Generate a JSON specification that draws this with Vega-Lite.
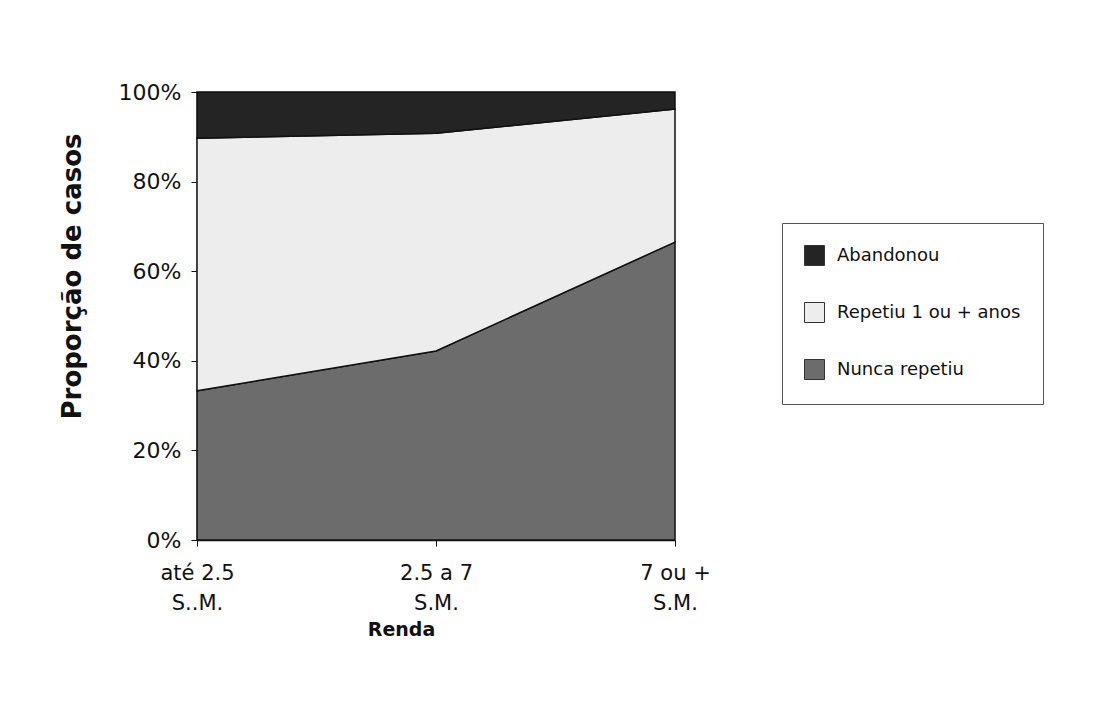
{
  "$schema": "https://vega.github.io/schema/vega-lite/v6.json",
  "width": 478,
  "height": 448,
  "autosize": {"type": "none"},
  "padding": {"left": 197, "top": 92, "right": 430, "bottom": 164},
  "background": "white",
  "data": {
    "values": [
      {"renda": "até 2.5|S..M.", "grupo": "Nunca repetiu", "valor": 33.3},
      {"renda": "até 2.5|S..M.", "grupo": "Repetiu 1 ou + anos", "valor": 56.4},
      {"renda": "até 2.5|S..M.", "grupo": "Abandonou", "valor": 10.3},
      {"renda": "2.5 a 7|S.M.", "grupo": "Nunca repetiu", "valor": 42.2},
      {"renda": "2.5 a 7|S.M.", "grupo": "Repetiu 1 ou + anos", "valor": 48.6},
      {"renda": "2.5 a 7|S.M.", "grupo": "Abandonou", "valor": 9.2},
      {"renda": "7 ou +|S.M.", "grupo": "Nunca repetiu", "valor": 66.5},
      {"renda": "7 ou +|S.M.", "grupo": "Repetiu 1 ou + anos", "valor": 29.7},
      {"renda": "7 ou +|S.M.", "grupo": "Abandonou", "valor": 3.8}
    ]
  },
  "transform": [
    {"calculate": "indexof(['Nunca repetiu','Repetiu 1 ou + anos','Abandonou'], datum.grupo)", "as": "ordem"}
  ],
  "mark": {"type": "area", "stroke": "#111", "strokeWidth": 1.5, "opacity": 1},
  "encoding": {
    "x": {
      "field": "renda",
      "type": "ordinal",
      "sort": ["até 2.5|S..M.", "2.5 a 7|S.M.", "7 ou +|S.M."],
      "scale": {"type": "point", "padding": 0},
      "axis": {
        "title": "Renda",
        "labelExpr": "split(datum.value, '|')",
        "labelAngle": 0,
        "labelFont": "DejaVu Sans",
        "labelFontSize": 21,
        "labelColor": "#111",
        "labelLineHeight": 30,
        "labelPadding": 16,
        "tickSize": 6,
        "tickColor": "#111",
        "domainColor": "#111",
        "domainWidth": 1.5,
        "titleFont": "DejaVu Sans",
        "titleFontSize": 19,
        "titleFontWeight": "bold",
        "titleColor": "#111",
        "titleAnchor": null,
        "titleAlign": "center",
        "titleBaseline": "middle",
        "titleX": 204,
        "titleY": 89,
        "grid": false
      }
    },
    "y": {
      "field": "valor",
      "type": "quantitative",
      "stack": "normalize",
      "scale": {"domain": [0, 1]},
      "axis": {
        "title": "Proporção de casos",
        "values": [0, 0.2, 0.4, 0.6, 0.8, 1],
        "format": ".0%",
        "labelFont": "DejaVu Sans",
        "labelFontSize": 22,
        "labelColor": "#111",
        "labelPadding": 10,
        "tickSize": 6,
        "tickColor": "#111",
        "domainColor": "#111",
        "domainWidth": 1.5,
        "grid": false,
        "titleFont": "DejaVu Sans",
        "titleFontSize": 26,
        "titleFontWeight": "bold",
        "titleColor": "#111",
        "titleAngle": -90,
        "titleAnchor": null,
        "titleAlign": "center",
        "titleBaseline": "middle",
        "titleX": -125,
        "titleY": 184
      }
    },
    "color": {
      "field": "grupo",
      "type": "nominal",
      "scale": {
        "domain": ["Abandonou", "Repetiu 1 ou + anos", "Nunca repetiu"],
        "range": ["#242424", "#ededed", "#6c6c6c"]
      },
      "legend": {
        "title": null,
        "orient": "none",
        "legendX": 585,
        "legendY": 131,
        "symbolType": "square",
        "symbolSize": 400,
        "symbolStrokeColor": "#333",
        "symbolStrokeWidth": 1,
        "symbolOpacity": 1,
        "labelFont": "DejaVu Sans",
        "labelFontSize": 18,
        "labelColor": "#111",
        "labelOffset": 12,
        "labelLimit": 0,
        "rowPadding": 32,
        "padding": 22,
        "strokeColor": "#555",
        "fillColor": "white"
      }
    },
    "order": {"field": "ordem", "type": "quantitative", "sort": "ascending"}
  },
  "config": {"view": {"stroke": null}}
}
